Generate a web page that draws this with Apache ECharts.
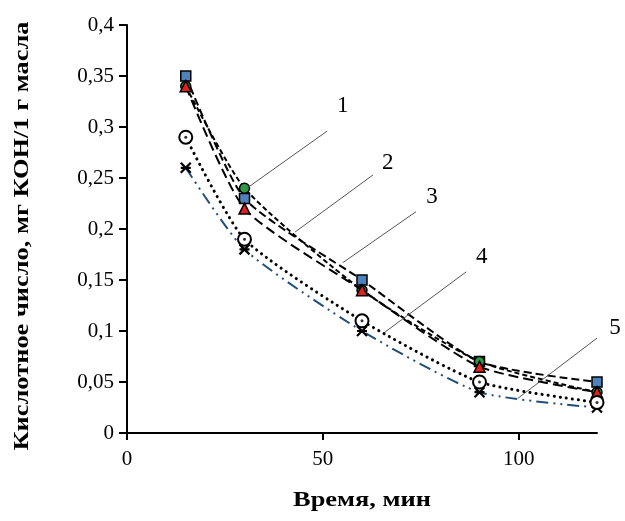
<!DOCTYPE html>
<html>
<head>
<meta charset="utf-8">
<script src="https://cdn.jsdelivr.net/npm/echarts@6/dist/echarts.min.js"></script>
<style>
  html, body { margin: 0; padding: 0; background: #fff; }
  #chart { width: 625px; height: 521px; }
</style>
</head>
<body>
<div id="chart"></div>
<script>
// Time, minutes
const times = [15, 30, 60, 90, 120];
// Acid number, mg KOH per 1 g of oil, curves 1..5
const curve1 = [0.34, 0.24, 0.14, 0.07, 0.04];
const curve2 = [0.35, 0.23, 0.15, 0.07, 0.05];
const curve3 = [0.34, 0.22, 0.14, 0.065, 0.04];
const curve4 = [0.29, 0.19, 0.11, 0.05, 0.03];
const curve5 = [0.26, 0.18, 0.10, 0.04, 0.025];

const xTicks = [0, 50, 100];
const yTicks = [0, 0.05, 0.1, 0.15, 0.2, 0.25, 0.3, 0.35, 0.4];

const xTitle = 'Время, мин';
const yTitle = 'Кислотное число, мг КОН/1 г масла';

// Curve numbers with their leader lines (data units: [time, value])
const calloutNames = ['1', '2', '3', '4', '5'];
const calloutStart = [[30.6, 0.240], [42.9, 0.197], [55.1, 0.167], [65.9, 0.099], [99.8, 0.034]];
const calloutEnd = [[51.1, 0.296], [62.8, 0.253], [73.8, 0.217], [86.6, 0.158], [120, 0.093]];
const calloutText = [[55.1, 0.321], [66.6, 0.265], [77.9, 0.231], [90.6, 0.173], [124.6, 0.103]];

const pairs = a => times.map((t, i) => [t, a[i]]);
const serif = '"Liberation Serif", "DejaVu Serif", serif';

const chart = echarts.init(document.getElementById('chart'), null, { renderer: 'canvas' });

const option = {
  animation: false,
  grid: { left: 127, right: 28, top: 25, bottom: 88, containLabel: false },
  xAxis: {
    type: 'value', min: 0, max: 120,
    axisLine: { lineStyle: { color: '#000', width: 2 } },
    axisTick: { show: true, length: 7, lineStyle: { color: '#000', width: 2 }, customValues: xTicks },
    axisLabel: { fontFamily: serif, fontSize: 21, color: '#000', margin: 16, customValues: xTicks },
    splitLine: { show: false }
  },
  yAxis: {
    type: 'value', min: 0, max: 0.4, interval: 0.05,
    axisLine: { show: true, lineStyle: { color: '#000', width: 2 } },
    axisTick: { show: true, length: 8, lineStyle: { color: '#000', width: 2 }, customValues: yTicks },
    axisLabel: {
      fontFamily: serif, fontSize: 21, color: '#000', margin: 13, customValues: yTicks,
      formatter: v => String(+v.toFixed(2)).replace('.', ',')
    },
    splitLine: { show: false }
  },
  series: [
    {
      name: '2', type: 'line', data: pairs(curve2), smooth: 0.2, z: 3,
      lineStyle: { color: '#000', width: 2, type: [8, 4] },
      symbol: 'rect', symbolSize: 10,
      itemStyle: { color: '#4f81bd', borderColor: '#000', borderWidth: 1.5 }
    },
    {
      name: '1', type: 'line', data: pairs(curve1), smooth: 0.2, z: 4,
      lineStyle: { color: '#000', width: 2, type: [5, 3] },
      symbol: 'circle', symbolSize: 10,
      itemStyle: { color: '#2e9a47', borderColor: '#000', borderWidth: 1.5 }
    },
    {
      name: '3', type: 'line', data: pairs(curve3), smooth: 0.2, z: 5,
      lineStyle: { color: '#000', width: 2, type: [10, 5] },
      symbol: 'triangle', symbolSize: 11,
      itemStyle: { color: '#e02020', borderColor: '#000', borderWidth: 1.5 }
    },
    {
      name: '4', type: 'line', data: pairs(curve4), smooth: 0.2, z: 6,
      lineStyle: { color: '#000', width: 3, type: [0.1, 6], cap: 'round' },
      symbol: 'circle', symbolSize: 13,
      itemStyle: { color: '#fff', borderColor: '#000', borderWidth: 2 }
    },
    {
      name: '4-dot', type: 'scatter', data: pairs(curve4), z: 7, silent: true,
      symbol: 'circle', symbolSize: 3, itemStyle: { color: '#000' }
    },
    {
      name: '5', type: 'line', data: pairs(curve5), smooth: 0.2, z: 2,
      lineStyle: { color: '#1f4e79', width: 2, type: [12, 5, 2, 5, 2, 5] },
      symbol: 'path://M0,0L10,10M10,0L0,10M0,5L10,5', symbolSize: 10,
      itemStyle: { color: 'transparent', borderColor: '#000', borderWidth: 2.2 }
    },
    {
      name: 'callouts', type: 'line', data: [], z: 1, silent: true,
      markLine: {
        symbol: 'none', silent: true,
        lineStyle: { color: '#555', width: 1, type: 'solid' },
        label: { show: false },
        data: calloutStart.map((s, i) => [{ coord: s }, { coord: calloutEnd[i] }])
      }
    }
  ]
};

chart.setOption(option);

// Axis titles and curve numbers, placed through the chart's own coordinate system
const toPx = c => chart.convertToPixel({ gridIndex: 0 }, c);
const bottomLeft = toPx([0, 0]);
const topRight = toPx([120, 0.4]);
const midX = (bottomLeft[0] + topRight[0]) / 2;
const midY = (bottomLeft[1] + topRight[1]) / 2;

const titleFont = { fontFamily: serif, fontWeight: 'bold', fontSize: 22, fill: '#000' };
const graphics = [
  {
    type: 'text', x: midX, y: bottomLeft[1] + 67, scaleX: 1.2,
    style: Object.assign({ text: xTitle, align: 'center', verticalAlign: 'middle' }, titleFont)
  },
  {
    type: 'text', x: 22, y: midY + 7, rotation: Math.PI / 2, scaleX: 1.2,
    style: Object.assign({ text: yTitle, align: 'center', verticalAlign: 'middle' }, titleFont)
  }
];
calloutText.forEach((c, i) => {
  const p = toPx(c);
  graphics.push({
    type: 'text', x: p[0], y: p[1],
    style: { text: calloutNames[i], align: 'center', verticalAlign: 'middle',
      fontFamily: serif, fontSize: 23, fill: '#000' }
  });
});
chart.setOption({ graphic: graphics });
</script>
</body>
</html>
